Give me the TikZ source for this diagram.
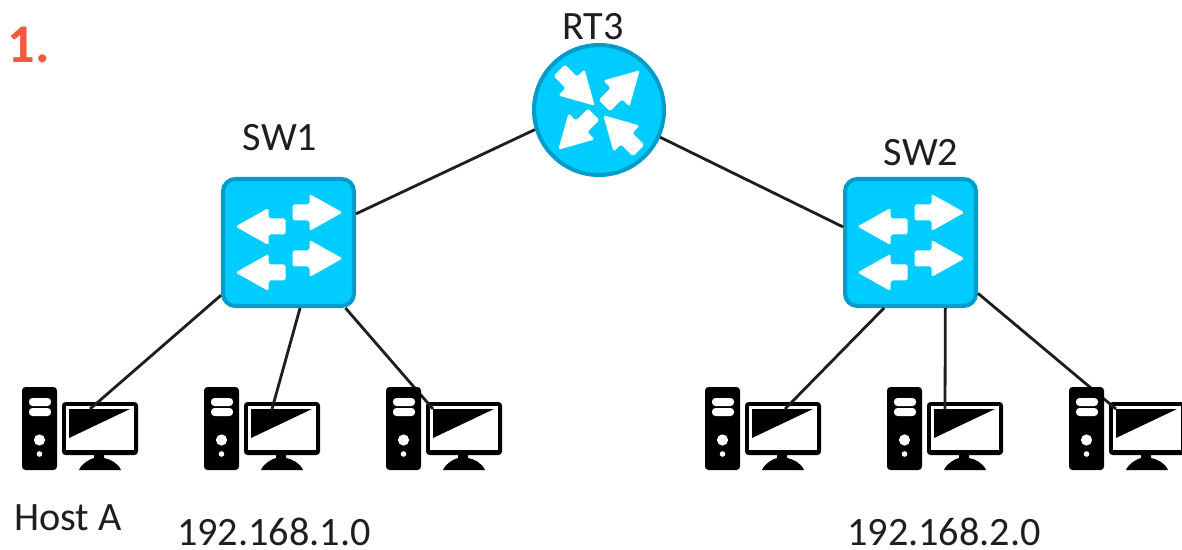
\documentclass[tikz,border=0pt]{standalone}
\usepackage{fontspec}
\setmainfont{Carlito}
\definecolor{devfill}{HTML}{00CCFF}
\definecolor{devline}{HTML}{009CCC}
\definecolor{linkgray}{HTML}{1E1E1E}
\definecolor{numred}{HTML}{F15A40}
\tikzset{
    lbl/.style={inner sep=0pt,text=linkgray,font=\fontsize{22.9}{26}\selectfont},
    swbox/.style={draw=devline,fill=devfill,line width=2.3pt,rounded corners=7pt,inner sep=0pt,minimum width=2.62cm,minimum height=2.54cm},
    rtbox/.style={circle,draw=devline,fill=devfill,line width=2.3pt,inner sep=0pt,minimum size=2.6cm},
    link/.style={draw=linkgray,line width=1.6pt},
    arrowicon/.pic={
        \fill[white,rounded corners=1pt] (1,0) -- (-32,-18.5) -- (-32,-8) -- (-49,-8) -- (-49,8) -- (-32,8) -- (-32,18.5) -- cycle;
    },
    swicon/.pic={
        \pic[rotate=0] at (53,-30) {arrowicon};
        \pic[rotate=0] at (53,16) {arrowicon};
        \pic[rotate=180] at (-52,-16) {arrowicon};
        \pic[rotate=180] at (-52,30) {arrowicon};
    },
    rticon/.pic={
        \pic[rotate=45] at (40,-39) {arrowicon};
        \pic[rotate=225] at (-40,39) {arrowicon};
        \pic[rotate=-45] at (-5,-5) {arrowicon};
        \pic[rotate=135] at (5,6) {arrowicon};
    },
    tower/.pic={
        \fill[black,rounded corners=2pt] (0,0) rectangle (35,83);
        \fill[white,rounded corners=2pt] (7,11) rectangle (29,19);
        \fill[white,rounded corners=2pt] (7,21) rectangle (29,29);
        \fill[white] (17.5,53) circle (5.6);
        \fill[white] (17.5,67) circle (2.8);
    },
    monitor/.pic={
        \fill[black,rounded corners=2pt] (40,15) rectangle (116,68);
        \fill[white] (44,19) rectangle (112,63);
        \fill[black] (47,22) -- (108,22) -- (47,51) -- cycle;
        % Stand
        \fill[black] (57,83) .. controls (60,76) and (68,72) .. (72,71) -- (72,68) -- (82,68) -- (82,71) .. controls (88,72) and (96,76) .. (99,83) -- cycle;
        \coordinate (-port) at (#1,22);
    }
}
\begin{document}
\begin{tikzpicture}[x=0.02cm,y=-0.02cm]
    \useasboundingbox (0,0) rectangle (1182,550);

    % Router and switches
    \node[rtbox] (rt3) at (599,110) {};
    \pic at (rt3) {rticon};
    \node[swbox] (sw1) at (288.5,242.5) {};
    \pic at (sw1) {swicon};
    \node[swbox] (sw2) at (910.5,242.5) {};
    \pic at (sw2) {swicon};

    % Monitors
    \pic (h1) at (22,387) {monitor=68};
    \pic (h2) at (204,387) {monitor=68};
    \pic (h3) at (386,387) {monitor=47};
    \pic (h4) at (705,387) {monitor=80};
    \pic (h5) at (887,387) {monitor=58};
    \pic (h6) at (1069,387) {monitor=47};

    % Links
    \draw[link] (sw1.23) -- (rt3.197);
    \draw[link] (sw2.167) -- (rt3.-24);
    \draw[link] (sw1.-142) -- (h1-port);
    \draw[link] (sw1.-80) -- (h2-port);
    \draw[link] (sw1.-49) -- (h3-port);
    \draw[link] (sw2.-112) -- (h4-port);
    \draw[link] (sw2.-62) -- (h5-port);
    \draw[link] (sw2.-37) -- (h6-port);

    % Towers, over the links
    \foreach \x in {22,204,386,705,887,1069}
        \pic at (\x,387) {tower};

    % Labels
    \node[lbl] (rt3lbl) at (593,27) {RT3};
    \node[lbl] (sw1lbl) at (280,138) {SW1};
    \node[lbl] (sw2lbl) at (921,153) {SW2};
    \node[lbl] (hostlbl) at (68,518) {Host A};
    \node[lbl] (net1) at (274,532) {192.168.1.0};
    \node[lbl] (net2) at (944,532) {192.168.2.0};
    \node[inner sep=0pt,text=numred,font=\fontsize{31}{34}\bfseries\selectfont] (num) at (29,45) {1.};
\end{tikzpicture}
\end{document}
